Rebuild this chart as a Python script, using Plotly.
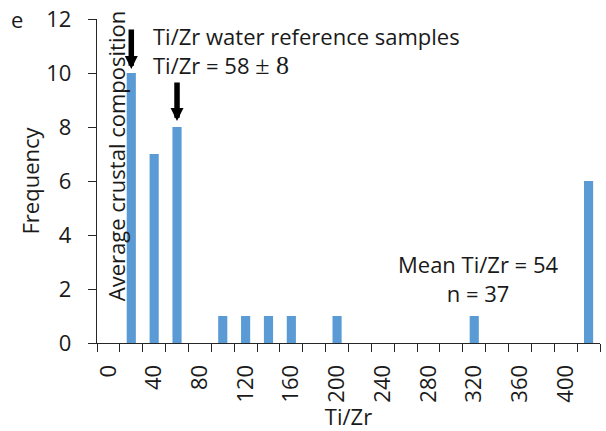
import plotly.graph_objects as go

# Data
bin_labels = ["0", "20", "40", "60", "80", "100", "120", "140", "160", "180", "200",
              "220", "240", "260", "280", "300", "320", "340", "360", "380", "400", "More"]
frequency = [0, 10, 7, 8, 0, 1, 1, 1, 1, 0, 1, 0, 0, 0, 0, 0, 1, 0, 0, 0, 0, 6]
y_ticks = [0, 2, 4, 6, 8, 10, 12]

FONT = "Open Sans"
TXT = "#1a1a1a"
AX = "#262626"
BLUE = "#5b9bd5"

idx = list(range(len(bin_labels)))
label_idx = idx[::2][:11]
label_txt = [bin_labels[i] for i in label_idx]
boundaries = [i - 0.5 for i in idx] + [idx[-1] + 0.5]

fig = go.Figure()
fig.add_trace(go.Bar(x=idx, y=frequency, marker=dict(color=BLUE, line=dict(width=0)),
                     width=0.4))

fig.update_layout(
    width=606, height=431,
    margin=dict(l=97, r=6, t=19, b=88),
    paper_bgcolor="white", plot_bgcolor="white",
    showlegend=False,
    font=dict(family=FONT, color=TXT, size=22),
)
fig.update_xaxes(
    range=[-0.5, len(bin_labels) - 0.5], automargin=False,
    tickmode="array", tickvals=label_idx, ticktext=label_txt,
    tickangle=-90, ticks="outside", ticklen=8, tickcolor="rgba(0,0,0,0)",
    showgrid=False, zeroline=False,
    showline=True, linecolor=AX, linewidth=1.3,
    tickfont=dict(size=22, family=FONT, color=TXT), ticklabelstandoff=4,
    minor=dict(tickmode="array", tickvals=boundaries, ticks="outside", ticklen=8,
               tickwidth=1.3, tickcolor=AX, showgrid=False),
    title=dict(text="Ti/Zr", font=dict(size=22, family=FONT, color=TXT), standoff=10),
)
fig.update_yaxes(
    range=[0, 12], tickmode="array", tickvals=y_ticks, automargin=False,
    ticks="outside", ticklen=8, tickwidth=1.3, tickcolor=AX,
    showgrid=False, zeroline=False, showline=True, linecolor=AX, linewidth=1.3,
    tickfont=dict(size=22, family=FONT, color=TXT), ticklabelstandoff=12,
    title=dict(text="Frequency", font=dict(size=22, family=FONT, color=TXT), standoff=0),
)

# Text annotations
fig.add_annotation(x=1.88, y=10.85, xref="x", yref="y", xanchor="left", yanchor="middle",
                   align="left", showarrow=False, font=dict(size=22, family=FONT, color=TXT),
                   text="Ti/Zr water reference samples<br>Ti/Zr = 58 <span style='font-family:Liberation Serif;font-size:26px'>± 8</span>")
fig.add_annotation(x=0.343, y=6.93, xref="x", yref="y", textangle=-90, showarrow=False,
                   font=dict(size=22, family=FONT, color=TXT),
                   text="Average crustal composition")
fig.add_annotation(x=16.15, y=2.4, xref="x", yref="y", showarrow=False, align="center",
                   font=dict(size=22, family=FONT, color=TXT),
                   text="Mean Ti/Zr = 54<br>n = 37")
fig.add_annotation(x=-0.16, y=1.0, xref="paper", yref="paper", xanchor="center", yanchor="middle",
                   showarrow=False, font=dict(size=22, family=FONT, color=TXT), text="e")

# Arrows
fig.add_annotation(x=1, y=frequency[1], xref="x", yref="y", ax=0, ay=-45, text="",
                   showarrow=True, arrowhead=2, arrowsize=0.47, arrowwidth=5.5,
                   arrowcolor="black", standoff=4)
fig.add_annotation(x=3, y=frequency[3], xref="x", yref="y", ax=0, ay=-46, text="",
                   showarrow=True, arrowhead=2, arrowsize=0.47, arrowwidth=5.5,
                   arrowcolor="black", standoff=6)

fig.write_html("out.html")
